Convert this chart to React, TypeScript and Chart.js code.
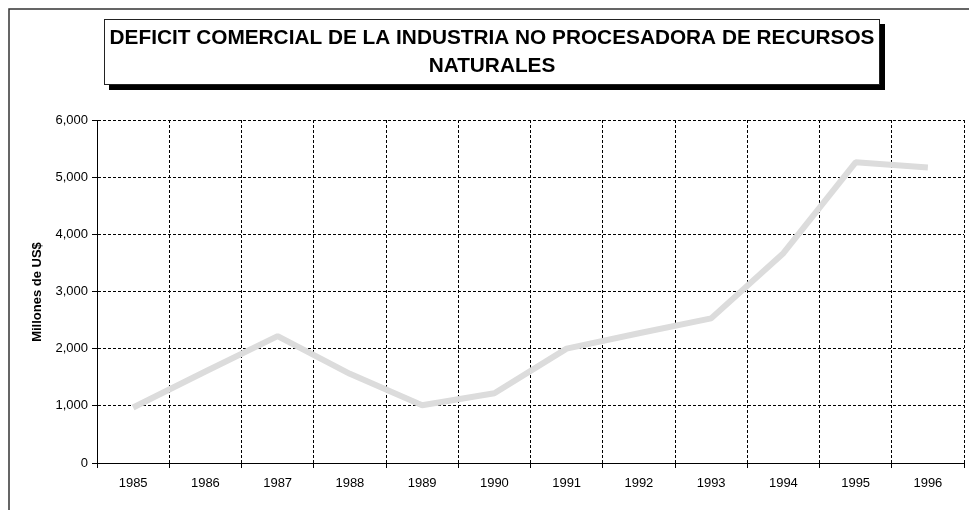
import React, { useEffect, useRef } from "react";
import { Chart, registerables } from "chart.js";

Chart.register(...registerables);

const categories = ["1985", "1986", "1987", "1988", "1989", "1990", "1991", "1992", "1993", "1994", "1995", "1996"];
const deficitValues = [970, 1600, 2220, 1560, 1010, 1220, 2000, 2270, 2530, 3670, 5260, 5170];
const titleLines = ["DEFICIT COMERCIAL DE LA INDUSTRIA NO PROCESADORA DE RECURSOS", "NATURALES"];
const yAxisTitle = "Millones de US$";

const FONT = "'Liberation Sans', Arial, sans-serif";

const decorPlugin = {
  id: "decor",
  beforeDraw(chart: any) {
    const ctx = chart.ctx;
    ctx.save();
    ctx.fillStyle = "#ffffff";
    ctx.fillRect(0, 0, chart.width, chart.height);
    // outer frame
    ctx.strokeStyle = "#333333";
    ctx.lineWidth = 1.5;
    ctx.strokeRect(9, 9, chart.width + 10, chart.height + 10);
    // title shadow and box
    ctx.fillStyle = "#000000";
    ctx.fillRect(109, 24, 776, 66);
    ctx.fillStyle = "#ffffff";
    ctx.fillRect(104, 19, 776, 66);
    ctx.strokeStyle = "#222222";
    ctx.lineWidth = 1;
    ctx.strokeRect(104.5, 19.5, 775, 65);
    ctx.fillStyle = "#000000";
    ctx.font = "bold 20.8px " + FONT;
    ctx.textAlign = "center";
    ctx.textBaseline = "middle";
    ctx.fillText(titleLines[0], 492, 38);
    ctx.fillText(titleLines[1], 492, 66);
    // y axis title
    ctx.font = "bold 13px " + FONT;
    ctx.translate(37, 292);
    ctx.rotate(-Math.PI / 2);
    ctx.fillText(yAxisTitle, 0, 0);
    ctx.restore();
  },
};

export default function App() {
  const ref = useRef<HTMLCanvasElement>(null);
  useEffect(() => {
    if (!ref.current) return;
    const chart = new Chart(ref.current, {
      type: "line",
      data: {
        labels: categories,
        datasets: [
          {
            data: deficitValues,
            borderColor: "#dcdcdc",
            borderWidth: 6,
            pointRadius: 0,
            tension: 0,
            borderCapStyle: "butt",
            borderJoinStyle: "bevel",
            fill: false,
          },
        ],
      },
      options: {
        animation: false,
        responsive: false,
        events: [],
        layout: { padding: { top: 120, right: 5, bottom: 0, left: 0 } },
        plugins: { legend: { display: false }, title: { display: false }, tooltip: { enabled: false } },
        scales: {
          x: {
            offset: true,
            grid: { offset: true, color: "#000000", lineWidth: 1, tickLength: 5, tickColor: "#000000" },
            border: { color: "#000000", width: 1, dash: [3, 2] },
            ticks: { color: "#000000", font: { family: FONT, size: 13 }, padding: 8, maxRotation: 0, autoSkip: false },
            afterFit: (s: any) => { s.height = 47; },
          },
          y: {
            min: 0,
            max: 6000,
            grid: { color: "#000000", lineWidth: 1, tickLength: 5, tickColor: "#000000" },
            border: { color: "#000000", width: 1, dash: [3, 2] },
            ticks: {
              stepSize: 1000,
              color: "#000000",
              padding: 4,
              font: { family: FONT, size: 13 },
              callback: (v: any) => Number(v).toLocaleString("en-US"),
            },
            afterFit: (s: any) => { s.width = 97; },
          },
        },
      },
      plugins: [decorPlugin],
    });
    return () => chart.destroy();
  }, []);
  return (
    <div style={{ position: "absolute", left: 0, top: 0, width: 969, height: 510 }}>
      <canvas ref={ref} width={969} height={510} style={{ display: "block" }} />
    </div>
  );
}
